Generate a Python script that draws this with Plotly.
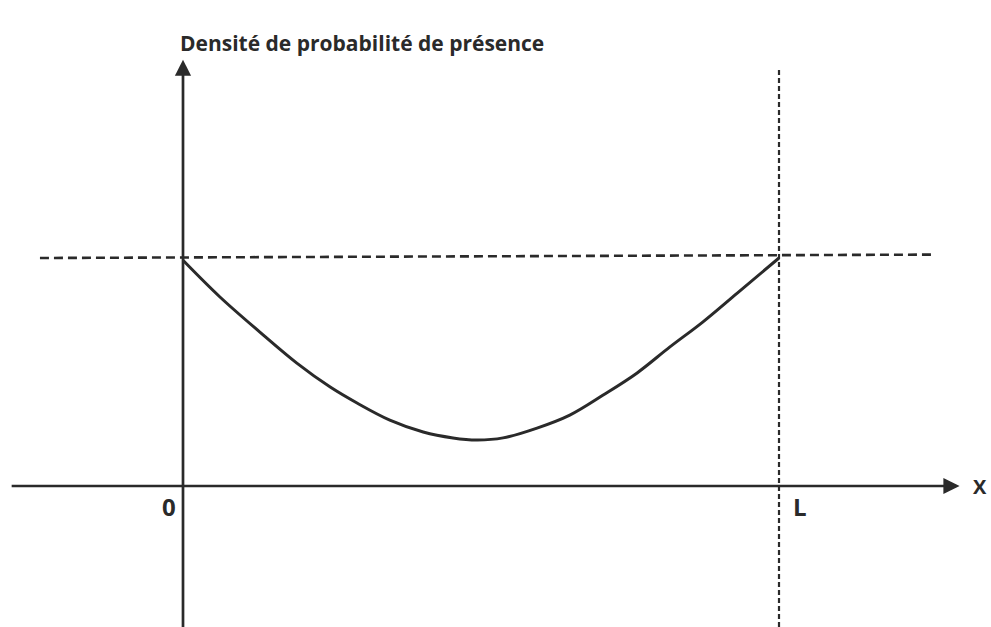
import plotly.graph_objects as go

# curve, x in units of L
x_curve = [0.0, 0.062, 0.129, 0.191, 0.247, 0.292, 0.347, 0.403, 0.453, 0.493,
           0.537, 0.594, 0.649, 0.705, 0.762, 0.817, 0.872, 0.930, 1.0]
y_curve = [0.99, 0.829, 0.675, 0.539, 0.434, 0.364, 0.289, 0.237, 0.211, 0.202,
           0.211, 0.254, 0.311, 0.399, 0.496, 0.610, 0.719, 0.846, 1.0]

# dashed guides
h_dash_x = [-0.24, 1.262]
h_dash_y = [1.0, 1.015]
v_dash_x = [1.0, 1.0]
v_dash_y = [1.825, -0.62]

# axis labels
tick_x = [0.0, 1.0]
tick_text = ["0", "L"]
title = "Densité de probabilité de présence"

ink = "#2a2a2a"

fig = go.Figure()
fig.add_trace(go.Scatter(x=h_dash_x, y=h_dash_y, mode="lines",
                         line=dict(color=ink, width=2.6, dash="9px,5px")))
fig.add_trace(go.Scatter(x=v_dash_x, y=v_dash_y, mode="lines",
                         line=dict(color=ink, width=2.2, dash="5px,3px")))
fig.add_trace(go.Scatter(x=x_curve, y=y_curve, mode="lines", line_shape="spline",
                         line=dict(color=ink, width=3)))

# axes with arrows
fig.add_annotation(x=1.303, y=0, ax=-0.29, ay=0, xref="x", yref="y", axref="x", ayref="y",
                   showarrow=True, arrowhead=2, arrowsize=1.2, arrowwidth=2.7, arrowcolor=ink, text="")
fig.add_annotation(x=0, y=1.87, ax=0, ay=-0.63, xref="x", yref="y", axref="x", ayref="y",
                   showarrow=True, arrowhead=2, arrowsize=1.2, arrowwidth=2.7, arrowcolor=ink, text="")

lab_font = dict(family="Open Sans", size=24, color=ink)
fig.add_annotation(x=tick_x[0] - 0.023, y=-0.092, text="<b>" + tick_text[0] + "</b>",
                   showarrow=False, font=lab_font)
fig.add_annotation(x=tick_x[1] + 0.035, y=-0.092, text="<b>" + tick_text[1] + "</b>",
                   showarrow=False, font=lab_font)
fig.add_annotation(x=1.338, y=0, text="<b>X</b>", showarrow=False, borderpad=0,
                   font=dict(family="Open Sans", size=20, color=ink))
fig.add_annotation(x=362 / 991, y=1 - 27 / 627, xref="paper", yref="paper", text="<b>" + title + "</b>",
                   showarrow=False, font=dict(family="Open Sans", size=21, color=ink))

fig.update_layout(width=991, height=627, margin=dict(l=0, r=0, t=0, b=0),
                  plot_bgcolor="white", paper_bgcolor="white", showlegend=False)
fig.update_xaxes(range=[-183 / 596, 808 / 596], visible=False)
fig.update_yaxes(range=[-141 / 228, 486 / 228], visible=False)

# page body has a default margin that pushes the chart off the window
fig.write_html("out.html", config={"displayModeBar": False},
               post_script="document.body.style.margin='0px';")
